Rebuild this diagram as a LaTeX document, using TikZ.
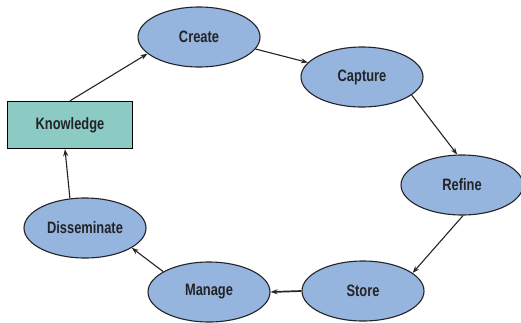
\documentclass[tikz,border=0pt]{standalone}
\usepackage{fontspec}
\setmainfont[FakeStretch=0.78]{Liberation Sans}
\usetikzlibrary{shapes.geometric,arrows.meta}
\definecolor{stepblue}{RGB}{149,181,222}
\definecolor{boxteal}{RGB}{140,203,195}
\definecolor{inkgray}{RGB}{35,35,40}
\begin{document}
\begin{tikzpicture}[x=1pt,y=-1pt,
  stage/.style={ellipse,draw=inkgray,line width=1.1pt,fill=stepblue,
    minimum width=122pt,minimum height=60pt,inner sep=0pt,
    font=\fontsize{16.5}{18}\selectfont\bfseries,text=inkgray},
  sourcebox/.style={rectangle,draw=black,line width=1.4pt,fill=boxteal,
    minimum width=125pt,minimum height=47pt,inner sep=0pt,
    font=\fontsize{16.5}{18}\selectfont\bfseries,text=inkgray},
  flow/.style={draw=inkgray,line width=1.1pt,-{Stealth[length=7pt,width=5pt]}}]
\useasboundingbox (0,0) rectangle (521,322);
\node[sourcebox] (K) at (70,125) {Knowledge};
\node[stage] (Cr) at (199,37) {Create};
\node[stage] (Ca) at (362,77) {Capture};
\node[stage] (Re) at (462,185) {Refine};
\node[stage] (St) at (363,291) {Store};
\node[stage] (Ma) at (209,292) {Manage};
\node[stage] (Di) at (85,228) {Disseminate};
\draw[flow] (K.north) -- (Cr.198);
\draw[flow] (Cr.-12) -- (Ca.165);
\draw[flow] (Ca.-20) -- (Re.99);
\draw[flow] (Re.-88) -- (St.20);
\draw[flow,line width=1.7pt] (St.180) -- (Ma.0);
\draw[flow] (Ma.156) -- (Di.-23);
\draw[flow] (Di.117) -- ([xshift=-5pt]K.south);
\end{tikzpicture}
\end{document}
